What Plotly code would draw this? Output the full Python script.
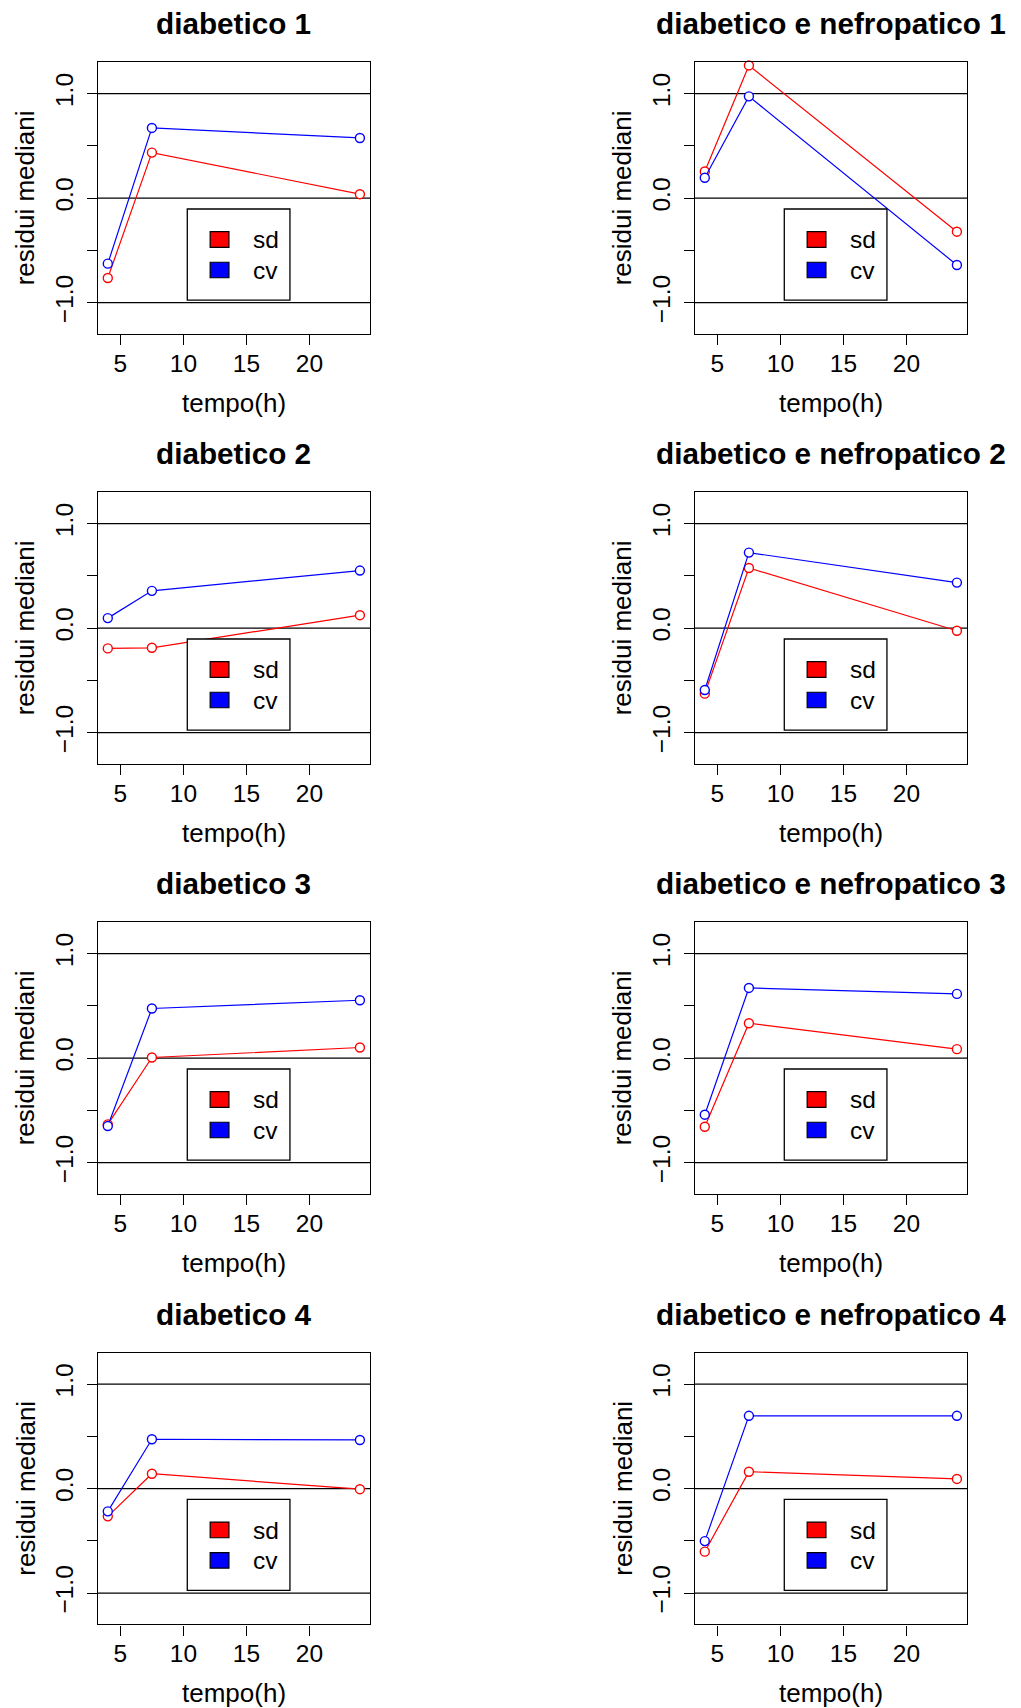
import plotly.graph_objects as go

# ---------------- data ----------------
TIME_H = [4, 7.5, 24]
SERIES_NAMES = ["sd", "cv"]
SERIES_COLORS = ["#FF0000", "#0000FF"]
GROUP_TITLES = ["diabetico", "diabetico e nefropatico"]
PATIENT_IDS = [1, 2, 3, 4]

SD_DIABETICO = [
    [-0.764, 0.436, 0.038],
    [-0.194, -0.188, 0.124],
    [-0.634, 0.006, 0.102],
    [-0.266, 0.142, -0.006],
]
CV_DIABETICO = [
    [-0.627, 0.672, 0.576],
    [0.096, 0.357, 0.551],
    [-0.650, 0.475, 0.554],
    [-0.218, 0.472, 0.465],
]
SD_NEFROPATICO = [
    [0.255, 1.270, -0.321],
    [-0.627, 0.576, -0.025],
    [-0.656, 0.334, 0.086],
    [-0.604, 0.161, 0.092],
]
CV_NEFROPATICO = [
    [0.195, 0.974, -0.640],
    [-0.592, 0.723, 0.436],
    [-0.541, 0.672, 0.615],
    [-0.503, 0.696, 0.696],
]
REF_LINES = [-1.0, 0.0, 1.0]
X_TICKS = [5, 10, 15, 20]
Y_TICKS = [-1.0, -0.5, 0.0, 0.5, 1.0]
Y_TICK_TEXT = ["\u22121.0", "", "0.0", "", "1.0"]
X_TITLE = "tempo(h)"
Y_TITLE = "residui mediani"

# ---------------- layout geometry (pixels) ----------------
W, H = 1021, 1708
BOX_LEFT = [97.7, 694.7]
BOX_W = 272.3
BOX_TOP = [62.3, 492.3, 922.3, 1352.7]
BOX_H = 271.7
FONT = "Liberation Sans, Arial, Helvetica, sans-serif"
TICK_SIZE = 24.5
LAB_SIZE = 26
LEG_SIZE = 24.5
TITLE_SIZE = 29.7

fig = go.Figure()
shapes = []
annotations = []

data_by_group = [(SD_DIABETICO, CV_DIABETICO), (SD_NEFROPATICO, CV_NEFROPATICO)]

idx = 0
for r, pid in enumerate(PATIENT_IDS):
    for c, title in enumerate(GROUP_TITLES):
        idx += 1
        xa = "x" if idx == 1 else f"x{idx}"
        ya = "y" if idx == 1 else f"y{idx}"
        xkey = "xaxis" if idx == 1 else f"xaxis{idx}"
        ykey = "yaxis" if idx == 1 else f"yaxis{idx}"
        sd_vals, cv_vals = data_by_group[c]
        series = [sd_vals[r], cv_vals[r]]
        for name, col, vals in zip(SERIES_NAMES, SERIES_COLORS, series):
            fig.add_trace(go.Scatter(
                x=TIME_H, y=vals, mode="lines+markers", name=name,
                xaxis=xa, yaxis=ya, showlegend=False,
                line=dict(color=col, width=1.2),
                marker=dict(symbol="circle", size=9, color="white",
                            line=dict(color=col, width=1.4)),
                cliponaxis=False,
            ))
        x0 = BOX_LEFT[c] / W
        x1 = (BOX_LEFT[c] + BOX_W) / W
        y1 = 1 - BOX_TOP[r] / H
        y0 = 1 - (BOX_TOP[r] + BOX_H) / H
        fig.update_layout({
            xkey: dict(domain=[x0, x1], anchor=ya, range=[3.2, 24.8],
                       tickvals=X_TICKS, ticks="outside", ticklen=10,
                       tickwidth=1.2, tickcolor="black", showline=True,
                       mirror=True, linecolor="black", linewidth=1.3,
                       showgrid=False, zeroline=False, ticklabelstandoff=-3,
                       tickfont=dict(size=TICK_SIZE, color="black", family=FONT)),
            ykey: dict(domain=[y0, y1], anchor=xa, range=[-1.3, 1.3],
                       tickvals=Y_TICKS, ticktext=Y_TICK_TEXT, tickangle=-90,
                       ticks="outside", ticklen=10, tickwidth=1.2,
                       tickcolor="black", showline=True, mirror=True,
                       linecolor="black", linewidth=1.3, showgrid=False,
                       zeroline=False, ticklabelstandoff=4,
                       tickfont=dict(size=TICK_SIZE, color="black", family=FONT)),
        })
        xd = f"{xa} domain"
        yd = f"{ya} domain"
        for v in REF_LINES:
            shapes.append(dict(type="line", xref=xd, yref=ya, x0=0, x1=1,
                               y0=v, y1=v, line=dict(color="black", width=1.3),
                               layer="below"))
        # legend box
        shapes.append(dict(type="rect", xref=xd, yref=yd, x0=0.329, x1=0.706,
                           y0=0.125, y1=0.46, fillcolor="white",
                           line=dict(color="black", width=1.3), layer="above"))
        sq_y = [(0.319, 0.3765), (0.207, 0.264)]
        txt_y = [0.346, 0.2355]
        for k, (name, col) in enumerate(zip(SERIES_NAMES, SERIES_COLORS)):
            shapes.append(dict(type="rect", xref=xd, yref=yd, x0=0.413, x1=0.482,
                               y0=sq_y[k][0], y1=sq_y[k][1], fillcolor=col,
                               line=dict(color="black", width=1.2), layer="above"))
            annotations.append(dict(text=name, xref=xd, yref=yd, x=0.562,
                                    y=txt_y[k], xanchor="left", yanchor="middle",
                                    showarrow=False,
                                    font=dict(size=LEG_SIZE, color="black", family=FONT)))
        # title
        annotations.append(dict(text=f"<b>{title} {pid}</b>", xref=xd, yref=yd,
                                x=0.5, y=1 + 38.5 / BOX_H,
                                xanchor="center", yanchor="middle", showarrow=False,
                                font=dict(size=TITLE_SIZE, color="black", family=FONT)))
        # axis titles
        annotations.append(dict(text=X_TITLE, xref=xd, yref=yd, x=0.5,
                                y=-69 / BOX_H, xanchor="center", yanchor="middle",
                                showarrow=False,
                                font=dict(size=LAB_SIZE, color="black", family=FONT)))
        annotations.append(dict(text=Y_TITLE, xref=xd, yref=yd, x=-72.5 / BOX_W,
                                y=0.5, xanchor="center", yanchor="middle",
                                textangle=-90, showarrow=False,
                                font=dict(size=LAB_SIZE, color="black", family=FONT)))

fig.update_layout(
    width=W, height=H, margin=dict(l=0, r=0, t=0, b=0),
    paper_bgcolor="white", plot_bgcolor="white",
    shapes=shapes, annotations=annotations, showlegend=False,
    font=dict(family=FONT, color="black"),
)

fig.write_html("out.html")
